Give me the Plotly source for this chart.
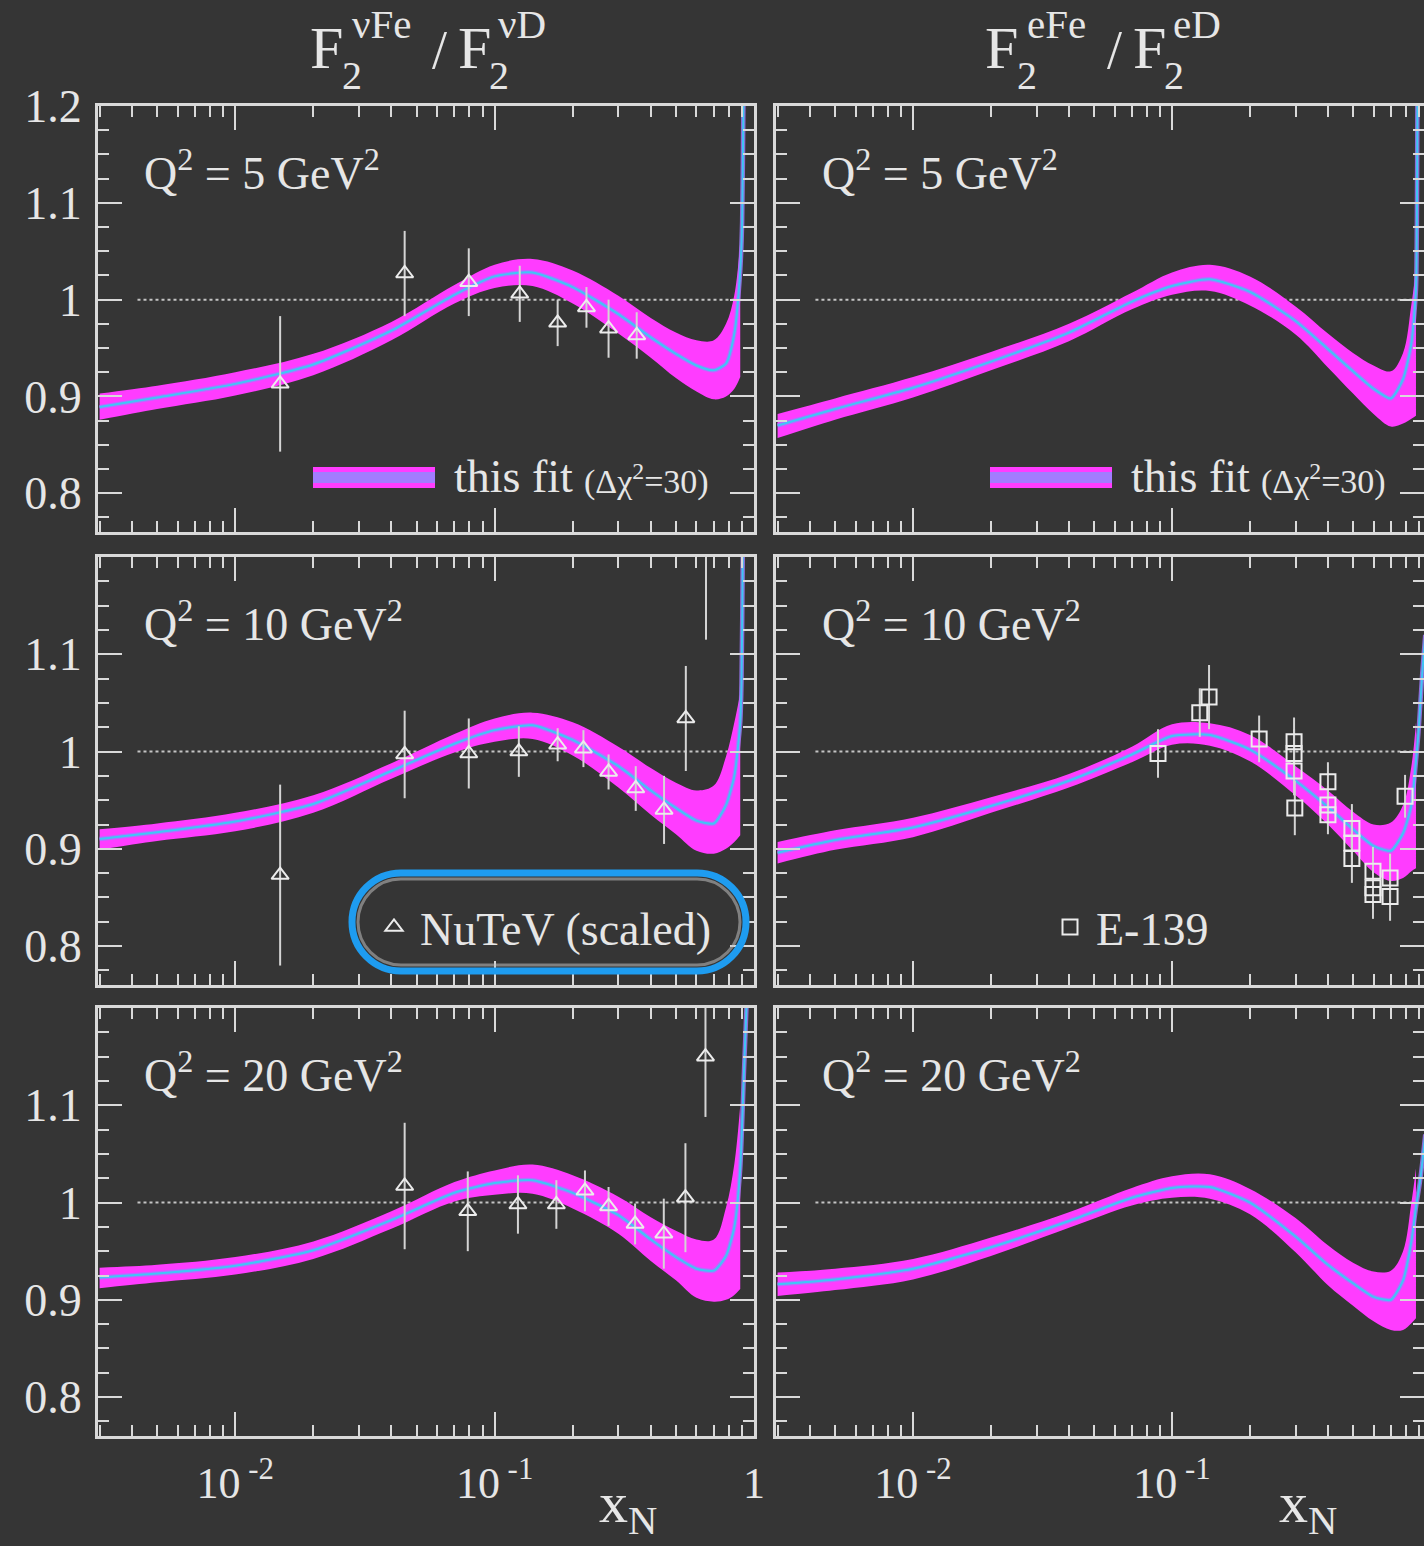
import math
import plotly.graph_objects as go

W, H = 1424, 1546

# ---------------- data ----------------
band_x_left = [0.003, 0.005, 0.01, 0.02, 0.04, 0.07, 0.1, 0.14, 0.2, 0.3, 0.4, 0.5, 0.6, 0.7, 0.78, 0.84, 0.885]
band_x_right = [0.003, 0.005, 0.01, 0.02, 0.04, 0.07, 0.1, 0.14, 0.2, 0.3, 0.4, 0.5, 0.6, 0.7, 0.78, 0.84, 0.875]

# nu Fe / nu D, Q2 = 5
nuFe_q5_c = [0.889, 0.899, 0.913, 0.933, 0.968, 1.005, 1.024, 1.028, 1.013, 0.985, 0.961, 0.944, 0.932, 0.927, 0.934, 0.965, 1.03]
nuFe_q5_hi = [0.903, 0.911, 0.925, 0.944, 0.977, 1.015, 1.036, 1.042, 1.030, 1.004, 0.981, 0.966, 0.958, 0.958, 0.975, 1.005, 1.06]
nuFe_q5_lo = [0.876, 0.887, 0.901, 0.922, 0.958, 0.996, 1.012, 1.014, 0.996, 0.965, 0.940, 0.919, 0.905, 0.897, 0.900, 0.908, 0.92]
nuFe_q5_tail_x = [0.9, 0.91, 0.915]
nuFe_q5_tail_c = [1.08, 1.2, 1.3]

# nu Fe / nu D, Q2 = 10
nuFe_q10_c = [0.910, 0.917, 0.928, 0.946, 0.980, 1.008, 1.022, 1.027, 1.012, 0.985, 0.960, 0.942, 0.929, 0.926, 0.945, 0.975, 1.03]
nuFe_q10_hi = [0.920, 0.926, 0.937, 0.955, 0.988, 1.018, 1.034, 1.040, 1.030, 1.005, 0.983, 0.968, 0.960, 0.965, 0.995, 1.030, 1.06]
nuFe_q10_lo = [0.899, 0.908, 0.918, 0.937, 0.972, 0.999, 1.010, 1.013, 0.996, 0.963, 0.935, 0.915, 0.898, 0.895, 0.900, 0.907, 0.914]
nuFe_q10_tail_x = [0.895, 0.905, 0.912]
nuFe_q10_tail_c = [1.07, 1.2, 1.32]

# nu Fe / nu D, Q2 = 20
nuFe_q20_c = [0.923, 0.927, 0.935, 0.951, 0.982, 1.010, 1.020, 1.023, 1.010, 0.987, 0.962, 0.944, 0.932, 0.930, 0.945, 0.975, 1.035]
nuFe_q20_hi = [0.933, 0.936, 0.944, 0.960, 0.991, 1.021, 1.033, 1.039, 1.028, 1.006, 0.985, 0.971, 0.962, 0.962, 0.995, 1.04, 1.10]
nuFe_q20_lo = [0.912, 0.918, 0.926, 0.942, 0.973, 1.001, 1.008, 1.009, 0.994, 0.968, 0.940, 0.920, 0.902, 0.898, 0.900, 0.905, 0.911]
nuFe_q20_tail_x = [0.915, 0.935, 0.95]
nuFe_q20_tail_c = [1.135, 1.2, 1.26]

# e Fe / e D, Q2 = 5
eFe_q5_c = [0.870, 0.887, 0.909, 0.936, 0.966, 0.998, 1.014, 1.021, 1.008, 0.978, 0.949, 0.926, 0.908, 0.898, 0.918, 0.955, 1.01]
eFe_q5_hi = [0.882, 0.898, 0.920, 0.946, 0.975, 1.007, 1.028, 1.036, 1.024, 0.993, 0.965, 0.945, 0.932, 0.926, 0.945, 0.995, 1.03]
eFe_q5_lo = [0.857, 0.876, 0.899, 0.927, 0.957, 0.990, 1.005, 1.009, 0.994, 0.964, 0.930, 0.903, 0.882, 0.869, 0.872, 0.877, 0.88]
eFe_q5_tail_x = [0.882, 0.886, 0.89]
eFe_q5_tail_c = [1.08, 1.2, 1.35]

# e Fe / e D, Q2 = 10
eFe_q10_c = [0.896, 0.909, 0.922, 0.944, 0.970, 0.997, 1.016, 1.017, 1.002, 0.970, 0.943, 0.920, 0.903, 0.898, 0.916, 0.945, 0.99]
eFe_q10_hi = [0.907, 0.919, 0.932, 0.953, 0.977, 1.005, 1.028, 1.029, 1.017, 0.985, 0.960, 0.938, 0.925, 0.927, 0.945, 0.985, 1.03]
eFe_q10_lo = [0.885, 0.899, 0.912, 0.937, 0.963, 0.989, 1.007, 1.006, 0.990, 0.955, 0.925, 0.898, 0.876, 0.867, 0.870, 0.877, 0.88]
eFe_q10_tail_x = [0.895, 0.925, 0.95]
eFe_q10_tail_c = [1.02, 1.08, 1.12]

# e Fe / e D, Q2 = 20
eFe_q20_c = [0.916, 0.921, 0.932, 0.954, 0.981, 1.005, 1.015, 1.016, 1.000, 0.965, 0.936, 0.917, 0.903, 0.900, 0.920, 0.960, 0.995]
eFe_q20_hi = [0.928, 0.932, 0.942, 0.964, 0.990, 1.015, 1.027, 1.029, 1.014, 0.984, 0.956, 0.938, 0.929, 0.930, 0.950, 1.0, 1.035]
eFe_q20_lo = [0.904, 0.910, 0.921, 0.945, 0.974, 0.997, 1.005, 1.004, 0.988, 0.949, 0.915, 0.894, 0.878, 0.869, 0.869, 0.876, 0.881]
eFe_q20_tail_x = [0.905, 0.93, 0.95]
eFe_q20_tail_c = [1.02, 1.046, 1.07]

# NuTeV (scaled)
nutev_q5_x = [0.0149, 0.045, 0.0795, 0.125, 0.175, 0.226, 0.275, 0.353]
nutev_q5_y = [0.913, 1.027, 1.018, 1.006, 0.976, 0.992, 0.970, 0.963]
nutev_q5_err = [0.070, 0.044, 0.035, 0.029, 0.024, 0.021, 0.030, 0.024]

nutev_q10_x = [0.0149, 0.045, 0.0795, 0.124, 0.175, 0.22, 0.275, 0.35, 0.45, 0.546, 0.653]
nutev_q10_y = [0.873, 0.997, 0.998, 1.000, 1.007, 1.003, 0.979, 0.962, 0.940, 1.034, 1.23]
nutev_q10_err = [0.093, 0.045, 0.036, 0.026, 0.017, 0.019, 0.018, 0.023, 0.035, 0.054, 0.115]

nutev_q20_x = [0.045, 0.0788, 0.123, 0.173, 0.223, 0.275, 0.348, 0.449, 0.544, 0.65]
nutev_q20_y = [1.017, 0.991, 0.998, 0.998, 1.012, 0.996, 0.978, 0.968, 1.005, 1.15]
nutev_q20_err = [0.065, 0.041, 0.030, 0.025, 0.021, 0.020, 0.021, 0.036, 0.056, 0.062]

# E-139
e139_x = [0.0883, 0.128, 0.139, 0.217, 0.296, 0.296, 0.296, 0.298, 0.40, 0.40, 0.40,
          0.495, 0.495, 0.495, 0.597, 0.597, 0.597, 0.695, 0.695, 0.794]
e139_y = [0.998, 1.040, 1.056, 1.013, 1.010, 0.998, 0.980, 0.942, 0.969, 0.945, 0.935,
          0.921, 0.906, 0.890, 0.877, 0.860, 0.853, 0.870, 0.851, 0.954]
e139_err = [0.025, 0.025, 0.033, 0.024, 0.025, 0.025, 0.025, 0.028, 0.020, 0.020, 0.020,
            0.025, 0.025, 0.025, 0.025, 0.025, 0.025, 0.025, 0.025, 0.022]

q2_labels = ["5", "10", "20"]
y_tick_vals = [0.8, 0.9, 1.0, 1.1, 1.2]
y_tick_text = ["0.8", "0.9", "1", "1.1", "1.2"]
x_tick_vals = [0.01, 0.1, 1]
x_tick_text = ["10<sup> -2</sup>", "10<sup> -1</sup>", "1"]

# ---------------- styling ----------------
BG = "#353535"
FG = "#e6e6e6"
AX = "#d9d9d9"
MAG = "#ff3cff"
CYAN = "#3fc6f6"
LAV = "#a27cff"
SERIF = "Liberation Serif"

X_LO = -2.529
X_HI_RIGHT = -0.027

def fx(px):
    return px / W

def fy(py):
    return 1 - py / H

col_dom = [(98, 754), (776, 1424)]
row_dom = [(106, 532), (557, 985), (1008, 1436)]

panels = [
    # (row, col, band_x, c, hi, lo, tail_x, tail_c)
    (0, 0, band_x_left, nuFe_q5_c, nuFe_q5_hi, nuFe_q5_lo, nuFe_q5_tail_x, nuFe_q5_tail_c),
    (0, 1, band_x_right, eFe_q5_c, eFe_q5_hi, eFe_q5_lo, eFe_q5_tail_x, eFe_q5_tail_c),
    (1, 0, band_x_left, nuFe_q10_c, nuFe_q10_hi, nuFe_q10_lo, nuFe_q10_tail_x, nuFe_q10_tail_c),
    (1, 1, band_x_right, eFe_q10_c, eFe_q10_hi, eFe_q10_lo, eFe_q10_tail_x, eFe_q10_tail_c),
    (2, 0, band_x_left, nuFe_q20_c, nuFe_q20_hi, nuFe_q20_lo, nuFe_q20_tail_x, nuFe_q20_tail_c),
    (2, 1, band_x_right, eFe_q20_c, eFe_q20_hi, eFe_q20_lo, eFe_q20_tail_x, eFe_q20_tail_c),
]

minor_x = [m * 10 ** e for e in (-3, -2, -1) for m in range(2, 10)]

fig = go.Figure()
layout = dict(
    width=W, height=H,
    margin=dict(l=0, r=0, t=0, b=0, autoexpand=False),
    paper_bgcolor=BG, plot_bgcolor=BG,
    showlegend=True,
    annotations=[], shapes=[],
)

for i, (r, c, bx, cy, hi, lo, tx, tc) in enumerate(panels):
    n = i + 1
    xa = "x" if n == 1 else f"x{n}"
    ya = "y" if n == 1 else f"y{n}"
    xkey = "xaxis" if n == 1 else f"xaxis{n}"
    ykey = "yaxis" if n == 1 else f"yaxis{n}"
    x0, x1 = col_dom[c]
    t, b = row_dom[r]
    xr = [X_LO, 0.0] if c == 0 else [X_LO, X_HI_RIGHT]
    bottom = (r == 2)
    layout[xkey] = dict(
        type="log", domain=[fx(x0), fx(x1)], range=xr, anchor=ya, automargin=False,
        showline=True, linecolor=AX, linewidth=3, mirror="ticks",
        ticks="inside", ticklen=24, tickwidth=2, tickcolor=AX,
        tickmode="array", tickvals=x_tick_vals, ticktext=x_tick_text,
        showticklabels=bottom, ticklabelstandoff=6,
        tickfont=dict(family=SERIF, size=44, color=FG),
        minor=dict(tickmode="array", tickvals=minor_x, ticks="inside", ticklen=11,
                   tickwidth=2, tickcolor=AX, showgrid=False),
        showgrid=False, zeroline=False,
    )
    yt_vals = y_tick_vals if r == 0 else y_tick_vals[:-1]
    yt_text = y_tick_text if r == 0 else y_tick_text[:-1]
    layout[ykey] = dict(
        domain=[fy(b), fy(t)], range=[0.76, 1.2], anchor=xa, automargin=False,
        showline=True, linecolor=AX, linewidth=3, mirror="ticks",
        ticks="inside", ticklen=24, tickwidth=2, tickcolor=AX,
        tickmode="array", tickvals=yt_vals, ticktext=yt_text,
        showticklabels=(c == 0), ticklabelstandoff=4,
        tickfont=dict(family=SERIF, size=46, color=FG),
        minor=dict(tick0=0.8, dtick=0.025, ticks="inside", ticklen=11,
                   tickwidth=2, tickcolor=AX, showgrid=False),
        showgrid=False, zeroline=False,
    )

    # dotted reference line at ratio = 1
    d0 = (math.log10(0.0042) - xr[0]) / (xr[1] - xr[0])
    d1 = (math.log10(0.86) - xr[0]) / (xr[1] - xr[0])
    layout["shapes"].append(dict(
        type="line", xref=f"{xa} domain", yref=ya, x0=d0, x1=d1, y0=1, y1=1,
        line=dict(color="#c4c4c4", width=2, dash="dot"), layer="below"))

    # band
    fig.add_trace(go.Scatter(x=bx, y=lo, xaxis=xa, yaxis=ya, mode="lines",
                             line=dict(width=0, color=MAG, shape="spline"),
                             showlegend=False, hoverinfo="skip"))
    fig.add_trace(go.Scatter(x=bx, y=hi, xaxis=xa, yaxis=ya, mode="lines",
                             line=dict(width=0, color=MAG, shape="spline"),
                             fill="tonexty", fillcolor=MAG,
                             showlegend=False, hoverinfo="skip"))
    # central line
    fx_c = bx + tx
    fy_c = cy + tc
    fig.add_trace(go.Scatter(x=fx_c, y=fy_c, xaxis=xa, yaxis=ya, mode="lines",
                             line=dict(width=4.5, color=LAV, shape="spline", smoothing=0.6),
                             opacity=0.8, showlegend=False, hoverinfo="skip"))
    fig.add_trace(go.Scatter(x=fx_c, y=fy_c, xaxis=xa, yaxis=ya, mode="lines",
                             line=dict(width=2, color=CYAN, shape="spline", smoothing=0.6),
                             showlegend=False, hoverinfo="skip"))

    # Q2 label
    layout["annotations"].append(dict(
        text=f"Q<sup>2</sup> = {q2_labels[r]} GeV<sup>2</sup>",
        xref="paper", yref="paper", x=fx(x0 + 44), y=fy(t + 64),
        xanchor="left", yanchor="middle", showarrow=False,
        font=dict(family=SERIF, size=46, color=FG)))

# data points
err_style = dict(type="data", color="#d4d4d4", thickness=2, width=0)
tri = dict(symbol="triangle-up-open", size=15, color="#ececec", line=dict(width=2))
sq = dict(symbol="square-open", size=15, color="#ececec", line=dict(width=2))

fig.add_trace(go.Scatter(x=nutev_q5_x, y=nutev_q5_y, xaxis="x", yaxis="y", mode="markers",
                         marker=tri, error_y=dict(array=nutev_q5_err, **err_style),
                         name="NuTeV (scaled)", legend="legend", showlegend=True))
fig.add_trace(go.Scatter(x=nutev_q10_x, y=nutev_q10_y, xaxis="x3", yaxis="y3", mode="markers",
                         marker=tri, error_y=dict(array=nutev_q10_err, **err_style),
                         name="NuTeV (scaled)", showlegend=False))
fig.add_trace(go.Scatter(x=nutev_q20_x, y=nutev_q20_y, xaxis="x5", yaxis="y5", mode="markers",
                         marker=tri, error_y=dict(array=nutev_q20_err, **err_style),
                         name="NuTeV (scaled)", showlegend=False))
fig.add_trace(go.Scatter(x=e139_x, y=e139_y, xaxis="x4", yaxis="y4", mode="markers",
                         marker=sq, error_y=dict(array=e139_err, **err_style),
                         name="E-139", legend="legend2", showlegend=True))

leg_common = dict(xanchor="left", yanchor="middle", bgcolor="rgba(0,0,0,0)", borderwidth=0,
                  font=dict(family=SERIF, size=46, color=FG), itemwidth=42)
layout["legend"] = dict(x=fx(368), y=fy(927), **leg_common)
layout["legend2"] = dict(x=fx(1044), y=fy(927), **leg_common)

# pill around NuTeV legend
def pill(x0, y0, x1, y1):
    r = (y1 - y0) / 2
    k = 0.5523 * r
    pts = [
        ("M", [(x0 + r, y0)]),
        ("L", [(x1 - r, y0)]),
        ("C", [(x1 - r + k, y0), (x1, y0 + r - k), (x1, y0 + r)]),
        ("C", [(x1, y0 + r + k), (x1 - r + k, y1), (x1 - r, y1)]),
        ("L", [(x0 + r, y1)]),
        ("C", [(x0 + r - k, y1), (x0, y0 + r + k), (x0, y0 + r)]),
        ("C", [(x0, y0 + r - k), (x0 + r - k, y0), (x0 + r, y0)]),
    ]
    s = ""
    for cmd, p in pts:
        s += cmd + " " + " ".join(f"{fx(a):.5f},{fy(bb):.5f}" for a, bb in p) + " "
    return s + "Z"

layout["shapes"].append(dict(type="path", xref="paper", yref="paper", path=pill(358, 879, 740, 965),
                             line=dict(color="rgba(190,190,190,0.55)", width=3), layer="above"))
layout["shapes"].append(dict(type="path", xref="paper", yref="paper", path=pill(352, 873, 746, 971),
                             line=dict(color="#1e9cf0", width=7), layer="above"))

# "this fit" legend samples (top row)
for off in (0, 677):
    layout["shapes"].append(dict(type="rect", xref="paper", yref="paper",
                                 x0=fx(313 + off), x1=fx(435 + off), y0=fy(488), y1=fy(467),
                                 fillcolor=MAG, line=dict(width=0), layer="above"))
    layout["shapes"].append(dict(type="rect", xref="paper", yref="paper",
                                 x0=fx(313 + off), x1=fx(435 + off), y0=fy(483), y1=fy(472),
                                 fillcolor=LAV, line=dict(width=0), layer="above"))
    layout["annotations"].append(dict(text="this fit", xref="paper", yref="paper",
                                      x=fx(452 + off), y=fy(476), xanchor="left", yanchor="middle",
                                      showarrow=False, font=dict(family=SERIF, size=46, color=FG)))
    layout["annotations"].append(dict(text="(Δχ<sup>2</sup>=30)", xref="paper", yref="paper",
                                      x=fx(582 + off), y=fy(479), xanchor="left", yanchor="middle",
                                      showarrow=False, font=dict(family=SERIF, size=34, color=FG)))

# column titles
def piece(text, px, py, size):
    layout["annotations"].append(dict(text=text, xref="paper", yref="paper", x=fx(px), y=fy(py),
                                      xanchor="left", yanchor="middle", showarrow=False,
                                      font=dict(family=SERIF, size=size, color=FG)))

for off, sup1, sup2 in ((0, "νFe", "νD"), (675, "eFe", "eD")):
    piece("F", 308 + off, 48, 60)
    piece("2", 340 + off, 76, 40)
    piece(sup1, 350 + off, 24, 41)
    piece("/", 430 + off, 50, 54)
    piece("F", 456 + off, 48, 60)
    piece("2", 487 + off, 76, 40)
    piece(sup2, 496 + off, 24, 41)

# x-axis titles
for cx in (628, 1308):
    layout["annotations"].append(dict(text="x<sub>N</sub>", xref="paper", yref="paper",
                                      x=fx(cx), y=fy(1506), xanchor="center", yanchor="middle",
                                      showarrow=False, font=dict(family=SERIF, size=58, color=FG)))

fig.update_layout(**layout)
fig.write_html("out.html")
